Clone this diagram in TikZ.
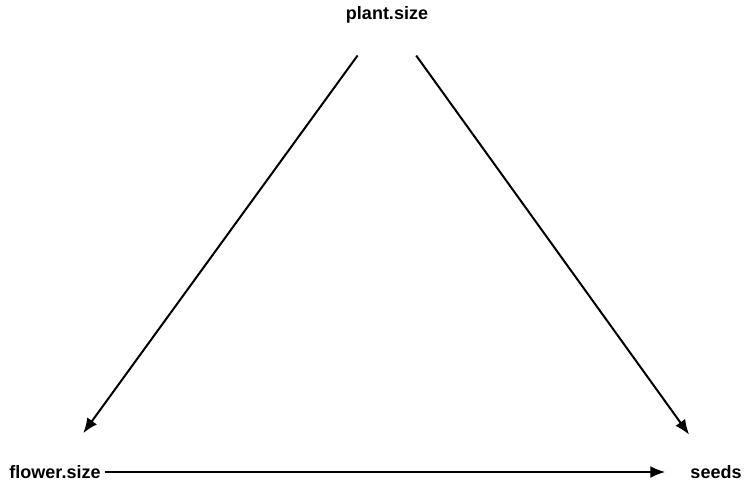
\documentclass[tikz,border=0pt]{standalone}
\usepackage{fontspec}
\setmainfont{Liberation Sans}
\usetikzlibrary{arrows.meta}

\begin{document}
\begin{tikzpicture}[x=1pt, y=1pt,
                    var/.style={inner sep=2pt, font=\fontsize{18}{21}\selectfont\bfseries},
                    link/.style={line width=2pt, -{Latex[length=15pt, width=12pt]}}]
                    \useasboundingbox (0,0) rectangle (746,482);
                    
                    % variables
                    \node[var] (plant) at (387,467) {plant.size};
                    \node[var] (flower) at (55,10) {flower.size};
                    \node[var] (seeds) at (716,10) {seeds};
                    
                    % causal arrows
                    \draw[link, shorten <=50pt, shorten >=48pt] (plant.center) -- (flower.center);
                    \draw[link, shorten <=50pt, shorten >=46pt] (plant.center) -- (seeds.center);
                    \draw[link, shorten <=2pt, shorten >=23pt] (flower.east) -- (seeds.west);
                \end{tikzpicture}
\end{document}
